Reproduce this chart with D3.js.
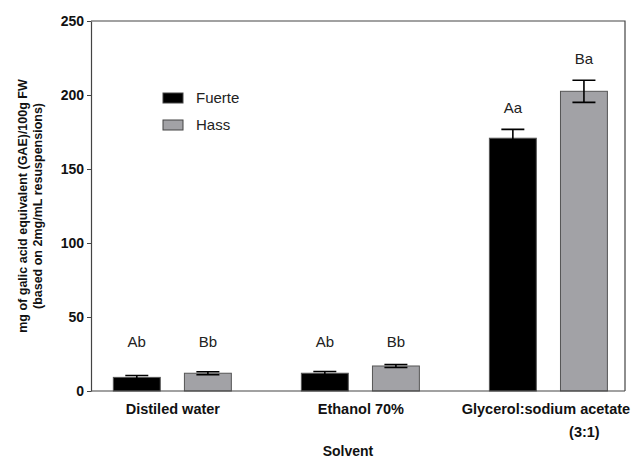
<!DOCTYPE html>
<html>
<head>
<meta charset="utf-8">
<script src="https://cdn.jsdelivr.net/npm/d3@7"></script>
<style>
  html, body { margin: 0; padding: 0; background: #fff; }
  svg { display: block; font-family: Arial, "Liberation Sans", sans-serif; }
</style>
</head>
<body>
<svg id="chart" width="631" height="459"></svg>
<script>
// Solvent groups and cultivar series
const solvents = ["Distiled water", "Ethanol 70%", "Glycerol:sodium acetate"];
const solventSub = ["", "", "(3:1)"];
const cultivars = ["Fuerte", "Hass"];
const fuerteValues = [9.2, 12.0, 170.8];
const hassValues = [12.0, 16.9, 202.5];
const fuerteErrors = [1.3, 1.2, 6.0];
const hassErrors = [1.0, 1.0, 7.5];
const fuerteLetters = ["Ab", "Ab", "Aa"];
const hassLetters = ["Bb", "Bb", "Ba"];
const yTicks = [0, 50, 100, 150, 200, 250];

const colors = { Fuerte: "#000000", Hass: "#a2a2a6" };

const svg = d3.select("#chart");
const plotLeft = 91, plotRight = 625, plotTop = 21, plotBottom = 391;

const y = d3.scaleLinear().domain([0, 250]).range([plotBottom, plotTop]);
const x0 = d3.scalePoint().domain(solvents).range([plotLeft, plotRight]).padding(0.42).align(0.515);
const x1 = d3.scaleBand().domain(cultivars).range([-59, 59]).paddingInner(0.34).paddingOuter(0);

const rows = [];
solvents.forEach((s, i) => {
  rows.push({ solvent: s, cultivar: "Fuerte", value: fuerteValues[i], err: fuerteErrors[i], letter: fuerteLetters[i] });
  rows.push({ solvent: s, cultivar: "Hass", value: hassValues[i], err: hassErrors[i], letter: hassLetters[i] });
});

// frame (top and right edges)
svg.append("path")
  .attr("d", `M${plotLeft},${plotTop}H${plotRight}V${plotBottom}`)
  .attr("fill", "none").attr("stroke", "#444").attr("stroke-width", 1.2);

// bars
const bw = x1.bandwidth();
const bar = svg.append("g").selectAll("g").data(rows).join("g")
  .attr("transform", d => `translate(${x0(d.solvent) + x1(d.cultivar)},0)`);

bar.append("rect")
  .attr("x", 0).attr("width", bw)
  .attr("y", d => y(d.value)).attr("height", d => y(0) - y(d.value))
  .attr("fill", d => colors[d.cultivar])
  .attr("stroke", "#555").attr("stroke-width", 1);

// error bars
const capW = 23;
bar.append("path")
  .attr("d", d => {
    const cx = bw / 2, hi = y(d.value + d.err), lo = y(d.value - d.err);
    return `M${cx},${lo}V${hi}M${cx - capW / 2},${hi}H${cx + capW / 2}M${cx - capW / 2},${lo}H${cx + capW / 2}`;
  })
  .attr("stroke", "#000").attr("stroke-width", 1.6).attr("fill", "none");

// significance letters
bar.append("text")
  .attr("x", bw / 2)
  .attr("y", d => Math.min(y(d.value + d.err) - 16, y(30)))
  .attr("text-anchor", "middle")
  .attr("font-size", 15).attr("fill", "#222")
  .text(d => d.letter);

// y axis
const yAxis = svg.append("g").attr("transform", `translate(${plotLeft},0)`)
  .call(d3.axisLeft(y).tickValues(yTicks).tickSize(4).tickPadding(3).tickSizeOuter(0));
yAxis.select(".domain").attr("stroke", "#444").attr("stroke-width", 1.2);
yAxis.selectAll(".tick line").attr("stroke", "#444");
yAxis.selectAll("text").attr("font-size", 14).attr("font-weight", "bold")
  .attr("fill", "#111").attr("font-family", "Arial, 'Liberation Sans', sans-serif");

// x axis
const xAxis = svg.append("g").attr("transform", `translate(0,${plotBottom})`)
  .call(d3.axisBottom(x0).tickSize(0).tickPadding(13).tickSizeOuter(0));
xAxis.select(".domain").attr("d", `M${plotLeft},0H${plotRight}`).attr("stroke", "#444").attr("stroke-width", 1.2);
xAxis.selectAll("text").attr("font-size", 14.5).attr("font-weight", "bold")
  .attr("fill", "#111").attr("font-family", "Arial, 'Liberation Sans', sans-serif")
  .attr("dx", (d, i) => i === solvents.length - 1 ? -3 : 0);

svg.append("g").selectAll("text").data(solvents.filter((s, i) => solventSub[i]))
  .join("text")
  .attr("x", d => x0(d) + 36).attr("y", plotBottom + 46)
  .attr("text-anchor", "middle").attr("font-size", 14.5).attr("font-weight", "bold").attr("fill", "#111")
  .text(d => solventSub[solvents.indexOf(d)]);

// axis titles
svg.append("text")
  .attr("x", 348).attr("y", 456)
  .attr("text-anchor", "middle").attr("font-size", 14).attr("font-weight", "bold").attr("fill", "#111")
  .text("Solvent");

const yTitle = svg.append("text")
  .attr("transform", `translate(0,${(plotTop + plotBottom) / 2}) rotate(-90)`)
  .attr("text-anchor", "middle").attr("font-size", 12.5).attr("font-weight", "bold").attr("fill", "#111");
yTitle.append("tspan").attr("x", 0).attr("y", 27).text("mg of galic acid equivalent (GAE)/100g FW");
yTitle.append("tspan").attr("x", 0).attr("y", 42).text("(based on 2mg/mL resuspensions)");

// legend
const legend = svg.append("g").selectAll("g").data(cultivars).join("g")
  .attr("transform", (d, i) => `translate(163,${93 + i * 27})`);
legend.append("rect").attr("width", 20).attr("height", 10)
  .attr("fill", d => colors[d]).attr("stroke", "#444").attr("stroke-width", 1);
legend.append("text").attr("x", 33).attr("y", 10)
  .attr("font-size", 15).attr("fill", "#222").text(d => d);
</script>
</body>
</html>
